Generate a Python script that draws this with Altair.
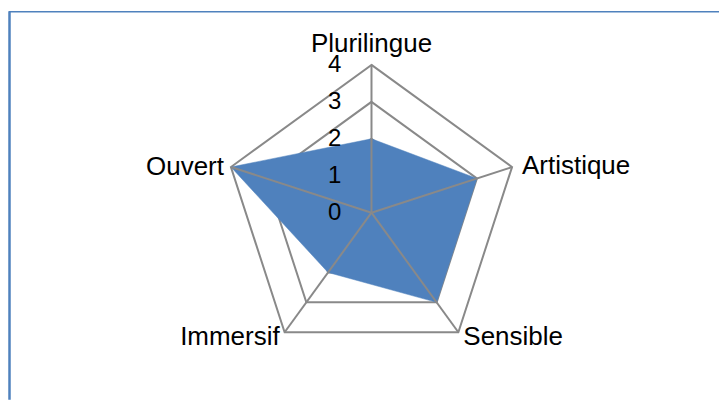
import altair as alt
import pandas as pd

categories = ["Plurilingue", "Artistique", "Sensible", "Immersif", "Ouvert"]
values = [2, 3, 3, 2, 4]
levels = [1, 2, 3, 4]
tick_labels = ["0", "1", "2", "3", "4"]
max_value = 4

W, H = 712, 392
unit = 37.0
cx, cy = 364.0, 204.7
xdom = [-cx / unit, (W - cx) / unit]
ydom = [-(H - cy) / unit, cy / unit]
n = len(categories)

poly = pd.DataFrame({"cat": categories, "idx": list(range(n)), "value": values})
grid = pd.DataFrame([{"cat": c, "idx": i, "value": l} for l in levels for i, c in enumerate(categories)])
spokes = pd.DataFrame({"cat": categories, "idx": list(range(n)), "value": [max_value] * n})
ticks = pd.DataFrame({"label": tick_labels, "value": [float(t) for t in tick_labels]})

ang = "PI/2 - 2*PI*datum.idx/%d" % n
xs = alt.Scale(domain=xdom, nice=False, zero=False)
ys = alt.Scale(domain=ydom, nice=False, zero=False)
X = alt.X("x:Q", scale=xs, axis=None)
Y = alt.Y("y:Q", scale=ys, axis=None)

def polar(ch):
    return ch.transform_calculate(
        a=ang
    ).transform_calculate(
        x="datum.value*cos(datum.a)", y="datum.value*sin(datum.a)"
    )

GRAY = "#898989"
FONT = "Liberation Sans"

fill = polar(alt.Chart(poly)).mark_line(
    interpolate="linear-closed", fill="#4f81bd", stroke="#4f81bd", strokeWidth=0.5
).encode(x=X, y=Y, order="idx:Q")

gridl = polar(alt.Chart(grid)).mark_line(
    interpolate="linear-closed", stroke=GRAY, strokeWidth=2
).encode(x=X, y=Y, order="idx:Q", detail="value:N")

spk = polar(alt.Chart(spokes)).transform_calculate(x0="0", y0="0").mark_rule(
    stroke=GRAY, strokeWidth=2
).encode(x=alt.X("x0:Q", scale=xs, axis=None), y=alt.Y("y0:Q", scale=ys, axis=None),
         x2="x:Q", y2="y:Q")

tk = alt.Chart(ticks).transform_calculate(x="0", y="datum.value").mark_text(
    font=FONT, fontSize=24, align="center", baseline="middle", dx=-37, color="black"
).encode(x=X, y=Y, text="label:N")

def lab(name, align, baseline, dx, dy):
    return polar(alt.Chart(spokes)).transform_filter(
        alt.datum.cat == name
    ).mark_text(font=FONT, fontSize=26, align=align, baseline=baseline, dx=dx, dy=dy, color="black").encode(
        x=X, y=Y, text="cat:N")

labels = [
    lab("Plurilingue", "center", "alphabetic", 0, -13),
    lab("Artistique", "left", "alphabetic", 10, 7),
    lab("Ouvert", "right", "alphabetic", -7, 8),
    lab("Sensible", "left", "alphabetic", 5, 13),
    lab("Immersif", "right", "alphabetic", -5, 13),
]

one = pd.DataFrame({"a": [0]})
border_top = alt.Chart(one).mark_rule(stroke="#4f81bd", strokeWidth=1.5).encode(
    x=alt.value(1), x2=alt.value(W), y=alt.value(3.5))
border_left = alt.Chart(one).mark_rule(stroke="#4f81bd", strokeWidth=2.5).encode(
    x=alt.value(1.5), y=alt.value(3), y2=alt.value(H))

chart = alt.layer(gridl, fill, spk, tk, *labels, border_top, border_left).properties(
    width=W, height=H, padding=0
).configure_view(stroke=None)

chart.save("out.html", embed_options={"renderer": "svg", "actions": False})
